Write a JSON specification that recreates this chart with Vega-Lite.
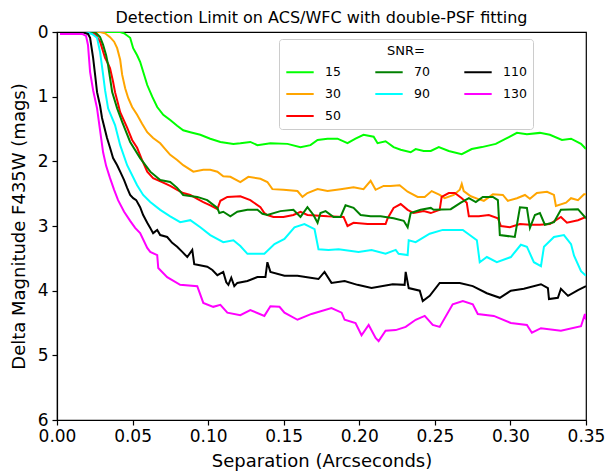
{
  "$schema": "https://vega.github.io/schema/vega-lite/v6.json",
  "autosize": {"type": "none"},
  "padding": {"left": 57, "top": 32, "right": 22, "bottom": 52},
  "width": 529,
  "height": 388,
  "background": "white",
  "title": {"text": "Detection Limit on ACS/WFC with double-PSF fitting", "fontSize": 16, "fontWeight": "normal", "font": "DejaVu Sans", "color": "black", "offset": -3},
  "data": {"values": [
    {"sep":0.0,"dmag":0,"snr":"15"},{"sep":0.0418,"dmag":0,"snr":"15"},{"sep":0.0444,"dmag":0.02,"snr":"15"},{"sep":0.0484,"dmag":0.09,"snr":"15"},{"sep":0.0504,"dmag":0.25,"snr":"15"},{"sep":0.053,"dmag":0.36,"snr":"15"},{"sep":0.055,"dmag":0.46,"snr":"15"},{"sep":0.0597,"dmag":0.82,"snr":"15"},{"sep":0.063,"dmag":1.0,"snr":"15"},{"sep":0.0663,"dmag":1.16,"snr":"15"},{"sep":0.0703,"dmag":1.28,"snr":"15"},{"sep":0.0749,"dmag":1.36,"snr":"15"},{"sep":0.0795,"dmag":1.45,"snr":"15"},{"sep":0.0835,"dmag":1.52,"snr":"15"},{"sep":0.0882,"dmag":1.55,"snr":"15"},{"sep":0.0948,"dmag":1.59,"snr":"15"},{"sep":0.1014,"dmag":1.65,"snr":"15"},{"sep":0.1081,"dmag":1.7,"snr":"15"},{"sep":0.1167,"dmag":1.73,"snr":"15"},{"sep":0.1213,"dmag":1.72,"snr":"15"},{"sep":0.1279,"dmag":1.7,"snr":"15"},{"sep":0.1326,"dmag":1.75,"snr":"15"},{"sep":0.1412,"dmag":1.72,"snr":"15"},{"sep":0.1525,"dmag":1.73,"snr":"15"},{"sep":0.1611,"dmag":1.78,"snr":"15"},{"sep":0.1677,"dmag":1.75,"snr":"15"},{"sep":0.1724,"dmag":1.67,"snr":"15"},{"sep":0.179,"dmag":1.65,"snr":"15"},{"sep":0.1856,"dmag":1.65,"snr":"15"},{"sep":0.1922,"dmag":1.72,"snr":"15"},{"sep":0.1975,"dmag":1.65,"snr":"15"},{"sep":0.2028,"dmag":1.59,"snr":"15"},{"sep":0.2095,"dmag":1.62,"snr":"15"},{"sep":0.2121,"dmag":1.72,"snr":"15"},{"sep":0.2174,"dmag":1.69,"snr":"15"},{"sep":0.2227,"dmag":1.78,"snr":"15"},{"sep":0.2274,"dmag":1.82,"snr":"15"},{"sep":0.234,"dmag":1.86,"snr":"15"},{"sep":0.2373,"dmag":1.81,"snr":"15"},{"sep":0.2426,"dmag":1.84,"snr":"15"},{"sep":0.2473,"dmag":1.84,"snr":"15"},{"sep":0.2526,"dmag":1.78,"snr":"15"},{"sep":0.2592,"dmag":1.84,"snr":"15"},{"sep":0.2678,"dmag":1.89,"snr":"15"},{"sep":0.2744,"dmag":1.81,"snr":"15"},{"sep":0.2811,"dmag":1.78,"snr":"15"},{"sep":0.2903,"dmag":1.73,"snr":"15"},{"sep":0.297,"dmag":1.65,"snr":"15"},{"sep":0.3043,"dmag":1.56,"snr":"15"},{"sep":0.3109,"dmag":1.58,"snr":"15"},{"sep":0.3195,"dmag":1.56,"snr":"15"},{"sep":0.3261,"dmag":1.59,"snr":"15"},{"sep":0.3341,"dmag":1.67,"snr":"15"},{"sep":0.3401,"dmag":1.65,"snr":"15"},{"sep":0.3467,"dmag":1.73,"snr":"15"},{"sep":0.35,"dmag":1.81,"snr":"15"},

    {"sep":0.0,"dmag":0,"snr":"30"},{"sep":0.0285,"dmag":0,"snr":"30"},{"sep":0.0318,"dmag":0.02,"snr":"30"},{"sep":0.0351,"dmag":0.08,"snr":"30"},{"sep":0.0378,"dmag":0.15,"snr":"30"},{"sep":0.0398,"dmag":0.25,"snr":"30"},{"sep":0.0418,"dmag":0.43,"snr":"30"},{"sep":0.0431,"dmag":0.66,"snr":"30"},{"sep":0.0451,"dmag":0.87,"snr":"30"},{"sep":0.0471,"dmag":1.02,"snr":"30"},{"sep":0.0497,"dmag":1.16,"snr":"30"},{"sep":0.053,"dmag":1.28,"snr":"30"},{"sep":0.0563,"dmag":1.42,"snr":"30"},{"sep":0.0597,"dmag":1.55,"snr":"30"},{"sep":0.0636,"dmag":1.64,"snr":"30"},{"sep":0.0683,"dmag":1.72,"snr":"30"},{"sep":0.0716,"dmag":1.81,"snr":"30"},{"sep":0.0749,"dmag":1.9,"snr":"30"},{"sep":0.0795,"dmag":1.98,"snr":"30"},{"sep":0.0835,"dmag":2.06,"snr":"30"},{"sep":0.0902,"dmag":2.16,"snr":"30"},{"sep":0.0968,"dmag":2.13,"snr":"30"},{"sep":0.1014,"dmag":2.13,"snr":"30"},{"sep":0.1061,"dmag":2.16,"snr":"30"},{"sep":0.11,"dmag":2.23,"snr":"30"},{"sep":0.1147,"dmag":2.24,"snr":"30"},{"sep":0.1213,"dmag":2.32,"snr":"30"},{"sep":0.1266,"dmag":2.24,"snr":"30"},{"sep":0.1346,"dmag":2.27,"snr":"30"},{"sep":0.1392,"dmag":2.32,"snr":"30"},{"sep":0.1425,"dmag":2.43,"snr":"30"},{"sep":0.1498,"dmag":2.44,"snr":"30"},{"sep":0.1591,"dmag":2.46,"snr":"30"},{"sep":0.1624,"dmag":2.55,"snr":"30"},{"sep":0.1657,"dmag":2.49,"snr":"30"},{"sep":0.1724,"dmag":2.43,"snr":"30"},{"sep":0.179,"dmag":2.46,"snr":"30"},{"sep":0.1876,"dmag":2.43,"snr":"30"},{"sep":0.1962,"dmag":2.4,"snr":"30"},{"sep":0.2028,"dmag":2.43,"snr":"30"},{"sep":0.2075,"dmag":2.3,"snr":"30"},{"sep":0.2108,"dmag":2.44,"snr":"30"},{"sep":0.2161,"dmag":2.38,"snr":"30"},{"sep":0.2207,"dmag":2.38,"snr":"30"},{"sep":0.2267,"dmag":2.37,"snr":"30"},{"sep":0.232,"dmag":2.47,"snr":"30"},{"sep":0.2386,"dmag":2.55,"snr":"30"},{"sep":0.2433,"dmag":2.55,"snr":"30"},{"sep":0.2479,"dmag":2.46,"snr":"30"},{"sep":0.2532,"dmag":2.52,"snr":"30"},{"sep":0.2565,"dmag":2.57,"snr":"30"},{"sep":0.2625,"dmag":2.52,"snr":"30"},{"sep":0.2665,"dmag":2.44,"snr":"30"},{"sep":0.2678,"dmag":2.35,"snr":"30"},{"sep":0.2691,"dmag":2.46,"snr":"30"},{"sep":0.2738,"dmag":2.54,"snr":"30"},{"sep":0.2784,"dmag":2.58,"snr":"30"},{"sep":0.2824,"dmag":2.61,"snr":"30"},{"sep":0.2884,"dmag":2.51,"snr":"30"},{"sep":0.295,"dmag":2.52,"snr":"30"},{"sep":0.2983,"dmag":2.61,"snr":"30"},{"sep":0.3043,"dmag":2.57,"snr":"30"},{"sep":0.3096,"dmag":2.52,"snr":"30"},{"sep":0.3129,"dmag":2.58,"snr":"30"},{"sep":0.3175,"dmag":2.49,"snr":"30"},{"sep":0.3242,"dmag":2.47,"snr":"30"},{"sep":0.3288,"dmag":2.52,"snr":"30"},{"sep":0.3301,"dmag":2.69,"snr":"30"},{"sep":0.3368,"dmag":2.64,"snr":"30"},{"sep":0.3401,"dmag":2.57,"snr":"30"},{"sep":0.3447,"dmag":2.6,"snr":"30"},{"sep":0.3487,"dmag":2.51,"snr":"30"},{"sep":0.35,"dmag":2.51,"snr":"30"},

    {"sep":0.0,"dmag":0,"snr":"50"},{"sep":0.0205,"dmag":0,"snr":"50"},{"sep":0.0252,"dmag":0.03,"snr":"50"},{"sep":0.0285,"dmag":0.15,"snr":"50"},{"sep":0.0318,"dmag":0.4,"snr":"50"},{"sep":0.0338,"dmag":0.49,"snr":"50"},{"sep":0.0351,"dmag":0.56,"snr":"50"},{"sep":0.0371,"dmag":0.77,"snr":"50"},{"sep":0.0384,"dmag":0.93,"snr":"50"},{"sep":0.0404,"dmag":1.11,"snr":"50"},{"sep":0.0418,"dmag":1.24,"snr":"50"},{"sep":0.0464,"dmag":1.48,"snr":"50"},{"sep":0.0497,"dmag":1.67,"snr":"50"},{"sep":0.053,"dmag":1.79,"snr":"50"},{"sep":0.0563,"dmag":1.98,"snr":"50"},{"sep":0.0597,"dmag":2.16,"snr":"50"},{"sep":0.0636,"dmag":2.26,"snr":"50"},{"sep":0.0703,"dmag":2.33,"snr":"50"},{"sep":0.0749,"dmag":2.38,"snr":"50"},{"sep":0.0795,"dmag":2.44,"snr":"50"},{"sep":0.0835,"dmag":2.49,"snr":"50"},{"sep":0.0882,"dmag":2.52,"snr":"50"},{"sep":0.0928,"dmag":2.58,"snr":"50"},{"sep":0.0968,"dmag":2.63,"snr":"50"},{"sep":0.1014,"dmag":2.68,"snr":"50"},{"sep":0.1061,"dmag":2.74,"snr":"50"},{"sep":0.1081,"dmag":2.61,"snr":"50"},{"sep":0.1127,"dmag":2.55,"snr":"50"},{"sep":0.1213,"dmag":2.54,"snr":"50"},{"sep":0.1279,"dmag":2.6,"snr":"50"},{"sep":0.1346,"dmag":2.71,"snr":"50"},{"sep":0.1372,"dmag":2.8,"snr":"50"},{"sep":0.1392,"dmag":2.83,"snr":"50"},{"sep":0.1432,"dmag":2.86,"snr":"50"},{"sep":0.1498,"dmag":2.86,"snr":"50"},{"sep":0.1564,"dmag":2.83,"snr":"50"},{"sep":0.1611,"dmag":2.78,"snr":"50"},{"sep":0.1657,"dmag":2.83,"snr":"50"},{"sep":0.179,"dmag":2.85,"snr":"50"},{"sep":0.1896,"dmag":2.86,"snr":"50"},{"sep":0.1922,"dmag":3.0,"snr":"50"},{"sep":0.1962,"dmag":2.95,"snr":"50"},{"sep":0.2055,"dmag":2.97,"snr":"50"},{"sep":0.2141,"dmag":2.97,"snr":"50"},{"sep":0.2174,"dmag":2.97,"snr":"50"},{"sep":0.2188,"dmag":2.88,"snr":"50"},{"sep":0.2227,"dmag":2.72,"snr":"50"},{"sep":0.2274,"dmag":2.66,"snr":"50"},{"sep":0.232,"dmag":2.75,"snr":"50"},{"sep":0.236,"dmag":2.8,"snr":"50"},{"sep":0.2426,"dmag":2.77,"snr":"50"},{"sep":0.2473,"dmag":2.8,"snr":"50"},{"sep":0.2532,"dmag":2.75,"snr":"50"},{"sep":0.2545,"dmag":2.55,"snr":"50"},{"sep":0.2592,"dmag":2.49,"snr":"50"},{"sep":0.2632,"dmag":2.49,"snr":"50"},{"sep":0.2678,"dmag":2.57,"snr":"50"},{"sep":0.2711,"dmag":2.64,"snr":"50"},{"sep":0.2725,"dmag":2.85,"snr":"50"},{"sep":0.2791,"dmag":2.85,"snr":"50"},{"sep":0.2857,"dmag":2.83,"snr":"50"},{"sep":0.2917,"dmag":2.88,"snr":"50"},{"sep":0.2937,"dmag":3.0,"snr":"50"},{"sep":0.2996,"dmag":3.02,"snr":"50"},{"sep":0.3063,"dmag":2.97,"snr":"50"},{"sep":0.3129,"dmag":2.98,"snr":"50"},{"sep":0.3195,"dmag":2.98,"snr":"50"},{"sep":0.3261,"dmag":2.97,"snr":"50"},{"sep":0.3334,"dmag":2.86,"snr":"50"},{"sep":0.3374,"dmag":2.95,"snr":"50"},{"sep":0.3447,"dmag":2.91,"snr":"50"},{"sep":0.35,"dmag":2.86,"snr":"50"},

    {"sep":0.0,"dmag":0,"snr":"70"},{"sep":0.0252,"dmag":0,"snr":"70"},{"sep":0.0285,"dmag":0.08,"snr":"70"},{"sep":0.0305,"dmag":0.2,"snr":"70"},{"sep":0.0325,"dmag":0.36,"snr":"70"},{"sep":0.0338,"dmag":0.51,"snr":"70"},{"sep":0.0365,"dmag":0.93,"snr":"70"},{"sep":0.0398,"dmag":1.18,"snr":"70"},{"sep":0.0431,"dmag":1.39,"snr":"70"},{"sep":0.0484,"dmag":1.7,"snr":"70"},{"sep":0.055,"dmag":1.95,"snr":"70"},{"sep":0.0617,"dmag":2.16,"snr":"70"},{"sep":0.0683,"dmag":2.29,"snr":"70"},{"sep":0.0749,"dmag":2.32,"snr":"70"},{"sep":0.0795,"dmag":2.41,"snr":"70"},{"sep":0.0835,"dmag":2.52,"snr":"70"},{"sep":0.0928,"dmag":2.55,"snr":"70"},{"sep":0.0994,"dmag":2.6,"snr":"70"},{"sep":0.1061,"dmag":2.72,"snr":"70"},{"sep":0.1074,"dmag":2.8,"snr":"70"},{"sep":0.11,"dmag":2.78,"snr":"70"},{"sep":0.1147,"dmag":2.85,"snr":"70"},{"sep":0.1193,"dmag":2.78,"snr":"70"},{"sep":0.126,"dmag":2.75,"snr":"70"},{"sep":0.1326,"dmag":2.75,"snr":"70"},{"sep":0.1359,"dmag":2.81,"snr":"70"},{"sep":0.1392,"dmag":2.83,"snr":"70"},{"sep":0.1478,"dmag":2.77,"snr":"70"},{"sep":0.1564,"dmag":2.75,"snr":"70"},{"sep":0.1611,"dmag":2.86,"snr":"70"},{"sep":0.1657,"dmag":2.71,"snr":"70"},{"sep":0.1697,"dmag":2.83,"snr":"70"},{"sep":0.1724,"dmag":2.95,"snr":"70"},{"sep":0.1743,"dmag":2.8,"snr":"70"},{"sep":0.1777,"dmag":2.77,"snr":"70"},{"sep":0.183,"dmag":2.86,"snr":"70"},{"sep":0.1876,"dmag":2.86,"snr":"70"},{"sep":0.1909,"dmag":2.68,"snr":"70"},{"sep":0.1962,"dmag":2.72,"snr":"70"},{"sep":0.2009,"dmag":2.83,"snr":"70"},{"sep":0.2075,"dmag":2.85,"snr":"70"},{"sep":0.2141,"dmag":2.85,"snr":"70"},{"sep":0.2227,"dmag":2.88,"snr":"70"},{"sep":0.2294,"dmag":2.92,"snr":"70"},{"sep":0.232,"dmag":3.02,"snr":"70"},{"sep":0.234,"dmag":2.8,"snr":"70"},{"sep":0.2406,"dmag":2.75,"snr":"70"},{"sep":0.2473,"dmag":2.72,"snr":"70"},{"sep":0.2492,"dmag":2.75,"snr":"70"},{"sep":0.2605,"dmag":2.74,"snr":"70"},{"sep":0.2672,"dmag":2.64,"snr":"70"},{"sep":0.2725,"dmag":2.57,"snr":"70"},{"sep":0.2771,"dmag":2.63,"snr":"70"},{"sep":0.2817,"dmag":2.55,"snr":"70"},{"sep":0.2884,"dmag":2.55,"snr":"70"},{"sep":0.2917,"dmag":2.6,"snr":"70"},{"sep":0.293,"dmag":3.14,"snr":"70"},{"sep":0.3029,"dmag":3.17,"snr":"70"},{"sep":0.3063,"dmag":2.71,"snr":"70"},{"sep":0.3109,"dmag":2.72,"snr":"70"},{"sep":0.3129,"dmag":3.03,"snr":"70"},{"sep":0.3162,"dmag":2.83,"snr":"70"},{"sep":0.3195,"dmag":2.8,"snr":"70"},{"sep":0.3228,"dmag":2.98,"snr":"70"},{"sep":0.3288,"dmag":2.94,"snr":"70"},{"sep":0.3334,"dmag":2.75,"snr":"70"},{"sep":0.3447,"dmag":2.74,"snr":"70"},{"sep":0.35,"dmag":2.88,"snr":"70"},

    {"sep":0.0,"dmag":0,"snr":"90"},{"sep":0.0186,"dmag":0,"snr":"90"},{"sep":0.0232,"dmag":0.03,"snr":"90"},{"sep":0.0265,"dmag":0.09,"snr":"90"},{"sep":0.0285,"dmag":0.31,"snr":"90"},{"sep":0.0305,"dmag":0.66,"snr":"90"},{"sep":0.0318,"dmag":0.9,"snr":"90"},{"sep":0.0338,"dmag":1.18,"snr":"90"},{"sep":0.0384,"dmag":1.44,"snr":"90"},{"sep":0.0418,"dmag":1.75,"snr":"90"},{"sep":0.0464,"dmag":2.06,"snr":"90"},{"sep":0.053,"dmag":2.37,"snr":"90"},{"sep":0.057,"dmag":2.52,"snr":"90"},{"sep":0.0617,"dmag":2.63,"snr":"90"},{"sep":0.0683,"dmag":2.75,"snr":"90"},{"sep":0.0749,"dmag":2.85,"snr":"90"},{"sep":0.0815,"dmag":2.94,"snr":"90"},{"sep":0.0882,"dmag":2.91,"snr":"90"},{"sep":0.0948,"dmag":3.02,"snr":"90"},{"sep":0.1014,"dmag":3.14,"snr":"90"},{"sep":0.11,"dmag":3.25,"snr":"90"},{"sep":0.1167,"dmag":3.22,"snr":"90"},{"sep":0.1213,"dmag":3.31,"snr":"90"},{"sep":0.126,"dmag":3.43,"snr":"90"},{"sep":0.1372,"dmag":3.43,"snr":"90"},{"sep":0.1439,"dmag":3.28,"snr":"90"},{"sep":0.1505,"dmag":3.2,"snr":"90"},{"sep":0.1571,"dmag":3.02,"snr":"90"},{"sep":0.1637,"dmag":2.97,"snr":"90"},{"sep":0.1704,"dmag":3.05,"snr":"90"},{"sep":0.173,"dmag":3.36,"snr":"90"},{"sep":0.1796,"dmag":3.37,"snr":"90"},{"sep":0.1863,"dmag":3.36,"snr":"90"},{"sep":0.1995,"dmag":3.4,"snr":"90"},{"sep":0.2081,"dmag":3.37,"snr":"90"},{"sep":0.2174,"dmag":3.43,"snr":"90"},{"sep":0.2241,"dmag":3.37,"snr":"90"},{"sep":0.226,"dmag":3.43,"snr":"90"},{"sep":0.232,"dmag":3.45,"snr":"90"},{"sep":0.2327,"dmag":3.22,"snr":"90"},{"sep":0.2373,"dmag":3.25,"snr":"90"},{"sep":0.2466,"dmag":3.12,"snr":"90"},{"sep":0.2552,"dmag":3.06,"snr":"90"},{"sep":0.2685,"dmag":3.06,"snr":"90"},{"sep":0.2778,"dmag":3.22,"snr":"90"},{"sep":0.2797,"dmag":3.56,"snr":"90"},{"sep":0.2844,"dmag":3.48,"snr":"90"},{"sep":0.291,"dmag":3.56,"snr":"90"},{"sep":0.3003,"dmag":3.48,"snr":"90"},{"sep":0.3069,"dmag":3.29,"snr":"90"},{"sep":0.3109,"dmag":3.32,"snr":"90"},{"sep":0.3155,"dmag":3.56,"snr":"90"},{"sep":0.3202,"dmag":3.62,"snr":"90"},{"sep":0.3222,"dmag":3.32,"snr":"90"},{"sep":0.3288,"dmag":3.17,"snr":"90"},{"sep":0.3354,"dmag":3.14,"snr":"90"},{"sep":0.3401,"dmag":3.28,"snr":"90"},{"sep":0.3421,"dmag":3.46,"snr":"90"},{"sep":0.3467,"dmag":3.7,"snr":"90"},{"sep":0.35,"dmag":3.77,"snr":"90"},

    {"sep":0.0,"dmag":0,"snr":"110"},{"sep":0.0166,"dmag":0,"snr":"110"},{"sep":0.0205,"dmag":0.03,"snr":"110"},{"sep":0.0219,"dmag":0.09,"snr":"110"},{"sep":0.0239,"dmag":0.4,"snr":"110"},{"sep":0.0252,"dmag":0.66,"snr":"110"},{"sep":0.0265,"dmag":0.93,"snr":"110"},{"sep":0.0285,"dmag":1.14,"snr":"110"},{"sep":0.0298,"dmag":1.33,"snr":"110"},{"sep":0.0331,"dmag":1.64,"snr":"110"},{"sep":0.0351,"dmag":1.79,"snr":"110"},{"sep":0.0371,"dmag":1.95,"snr":"110"},{"sep":0.0398,"dmag":2.06,"snr":"110"},{"sep":0.0418,"dmag":2.16,"snr":"110"},{"sep":0.0444,"dmag":2.29,"snr":"110"},{"sep":0.0464,"dmag":2.41,"snr":"110"},{"sep":0.0484,"dmag":2.52,"snr":"110"},{"sep":0.0504,"dmag":2.57,"snr":"110"},{"sep":0.0524,"dmag":2.6,"snr":"110"},{"sep":0.055,"dmag":2.71,"snr":"110"},{"sep":0.057,"dmag":2.83,"snr":"110"},{"sep":0.0597,"dmag":2.95,"snr":"110"},{"sep":0.0617,"dmag":3.03,"snr":"110"},{"sep":0.0636,"dmag":3.11,"snr":"110"},{"sep":0.0663,"dmag":3.06,"snr":"110"},{"sep":0.0683,"dmag":3.14,"snr":"110"},{"sep":0.0729,"dmag":3.17,"snr":"110"},{"sep":0.0762,"dmag":3.26,"snr":"110"},{"sep":0.0795,"dmag":3.32,"snr":"110"},{"sep":0.0829,"dmag":3.4,"snr":"110"},{"sep":0.0862,"dmag":3.48,"snr":"110"},{"sep":0.0895,"dmag":3.37,"snr":"110"},{"sep":0.0908,"dmag":3.59,"snr":"110"},{"sep":0.0928,"dmag":3.6,"snr":"110"},{"sep":0.0994,"dmag":3.63,"snr":"110"},{"sep":0.1028,"dmag":3.68,"snr":"110"},{"sep":0.1061,"dmag":3.76,"snr":"110"},{"sep":0.11,"dmag":3.71,"snr":"110"},{"sep":0.112,"dmag":3.87,"snr":"110"},{"sep":0.1134,"dmag":3.91,"snr":"110"},{"sep":0.1153,"dmag":3.8,"snr":"110"},{"sep":0.1173,"dmag":3.93,"snr":"110"},{"sep":0.1193,"dmag":3.88,"snr":"110"},{"sep":0.126,"dmag":3.85,"snr":"110"},{"sep":0.1326,"dmag":3.79,"snr":"110"},{"sep":0.1379,"dmag":3.79,"snr":"110"},{"sep":0.1392,"dmag":3.56,"snr":"110"},{"sep":0.1412,"dmag":3.71,"snr":"110"},{"sep":0.1505,"dmag":3.77,"snr":"110"},{"sep":0.1591,"dmag":3.77,"snr":"110"},{"sep":0.1677,"dmag":3.8,"snr":"110"},{"sep":0.173,"dmag":3.82,"snr":"110"},{"sep":0.177,"dmag":3.71,"snr":"110"},{"sep":0.1816,"dmag":3.88,"snr":"110"},{"sep":0.1903,"dmag":3.85,"snr":"110"},{"sep":0.1988,"dmag":3.91,"snr":"110"},{"sep":0.2081,"dmag":3.96,"snr":"110"},{"sep":0.2221,"dmag":3.9,"snr":"110"},{"sep":0.23,"dmag":3.91,"snr":"110"},{"sep":0.2307,"dmag":3.71,"snr":"110"},{"sep":0.2327,"dmag":3.96,"snr":"110"},{"sep":0.24,"dmag":4.0,"snr":"110"},{"sep":0.242,"dmag":4.16,"snr":"110"},{"sep":0.2466,"dmag":4.08,"snr":"110"},{"sep":0.2532,"dmag":3.88,"snr":"110"},{"sep":0.2665,"dmag":3.88,"snr":"110"},{"sep":0.2751,"dmag":3.93,"snr":"110"},{"sep":0.2844,"dmag":4.04,"snr":"110"},{"sep":0.293,"dmag":4.11,"snr":"110"},{"sep":0.3003,"dmag":4.0,"snr":"110"},{"sep":0.3089,"dmag":3.97,"snr":"110"},{"sep":0.3202,"dmag":3.9,"snr":"110"},{"sep":0.3248,"dmag":3.96,"snr":"110"},{"sep":0.3255,"dmag":4.13,"snr":"110"},{"sep":0.3314,"dmag":4.11,"snr":"110"},{"sep":0.3334,"dmag":3.97,"snr":"110"},{"sep":0.3381,"dmag":4.08,"snr":"110"},{"sep":0.3447,"dmag":3.99,"snr":"110"},{"sep":0.35,"dmag":3.93,"snr":"110"},

    {"sep":0.002,"dmag":0.03,"snr":"130"},{"sep":0.0166,"dmag":0.03,"snr":"130"},{"sep":0.0192,"dmag":0.06,"snr":"130"},{"sep":0.0205,"dmag":0.2,"snr":"130"},{"sep":0.0219,"dmag":0.62,"snr":"130"},{"sep":0.0239,"dmag":0.9,"snr":"130"},{"sep":0.0265,"dmag":1.18,"snr":"130"},{"sep":0.0285,"dmag":1.52,"snr":"130"},{"sep":0.0305,"dmag":1.86,"snr":"130"},{"sep":0.0325,"dmag":2.07,"snr":"130"},{"sep":0.0351,"dmag":2.26,"snr":"130"},{"sep":0.0378,"dmag":2.44,"snr":"130"},{"sep":0.0404,"dmag":2.6,"snr":"130"},{"sep":0.0444,"dmag":2.78,"snr":"130"},{"sep":0.0484,"dmag":2.92,"snr":"130"},{"sep":0.0517,"dmag":3.03,"snr":"130"},{"sep":0.055,"dmag":3.11,"snr":"130"},{"sep":0.0597,"dmag":3.34,"snr":"130"},{"sep":0.0617,"dmag":3.4,"snr":"130"},{"sep":0.0663,"dmag":3.45,"snr":"130"},{"sep":0.067,"dmag":3.65,"snr":"130"},{"sep":0.0729,"dmag":3.79,"snr":"130"},{"sep":0.0815,"dmag":3.91,"snr":"130"},{"sep":0.0928,"dmag":3.93,"snr":"130"},{"sep":0.0968,"dmag":4.19,"snr":"130"},{"sep":0.1034,"dmag":4.25,"snr":"130"},{"sep":0.1081,"dmag":4.22,"snr":"130"},{"sep":0.1127,"dmag":4.34,"snr":"130"},{"sep":0.1213,"dmag":4.38,"snr":"130"},{"sep":0.1279,"dmag":4.3,"snr":"130"},{"sep":0.1372,"dmag":4.39,"snr":"130"},{"sep":0.1412,"dmag":4.24,"snr":"130"},{"sep":0.1472,"dmag":4.25,"snr":"130"},{"sep":0.1505,"dmag":4.34,"snr":"130"},{"sep":0.1591,"dmag":4.45,"snr":"130"},{"sep":0.1684,"dmag":4.36,"snr":"130"},{"sep":0.1816,"dmag":4.27,"snr":"130"},{"sep":0.1883,"dmag":4.34,"snr":"130"},{"sep":0.1903,"dmag":4.45,"snr":"130"},{"sep":0.1975,"dmag":4.5,"snr":"130"},{"sep":0.2015,"dmag":4.69,"snr":"130"},{"sep":0.2062,"dmag":4.53,"snr":"130"},{"sep":0.2108,"dmag":4.73,"snr":"130"},{"sep":0.2128,"dmag":4.78,"snr":"130"},{"sep":0.2174,"dmag":4.62,"snr":"130"},{"sep":0.2241,"dmag":4.61,"snr":"130"},{"sep":0.2307,"dmag":4.56,"snr":"130"},{"sep":0.2373,"dmag":4.45,"snr":"130"},{"sep":0.2433,"dmag":4.39,"snr":"130"},{"sep":0.2486,"dmag":4.53,"snr":"130"},{"sep":0.2532,"dmag":4.56,"snr":"130"},{"sep":0.2618,"dmag":4.21,"snr":"130"},{"sep":0.2685,"dmag":4.16,"snr":"130"},{"sep":0.2751,"dmag":4.21,"snr":"130"},{"sep":0.2784,"dmag":4.36,"snr":"130"},{"sep":0.289,"dmag":4.39,"snr":"130"},{"sep":0.3003,"dmag":4.5,"snr":"130"},{"sep":0.3109,"dmag":4.53,"snr":"130"},{"sep":0.3142,"dmag":4.65,"snr":"130"},{"sep":0.3202,"dmag":4.58,"snr":"130"},{"sep":0.3334,"dmag":4.62,"snr":"130"},{"sep":0.3467,"dmag":4.55,"snr":"130"},{"sep":0.3493,"dmag":4.36,"snr":"130"},{"sep":0.35,"dmag":4.45,"snr":"130"}
  ]},
  "mark": {"type": "line", "strokeWidth": 2, "clip": true, "interpolate": "linear"},
  "encoding": {
    "x": {
      "field": "sep", "type": "quantitative",
      "scale": {"domain": [0, 0.35], "nice": false, "zero": false},
      "axis": {"title": "Separation (Arcseconds)", "values": [0, 0.05, 0.1, 0.15, 0.2, 0.25, 0.3, 0.35], "format": ".2f", "grid": false, "labelFontSize": 17, "titleFontSize": 18, "titleFontWeight": "normal", "labelPadding": 3, "titlePadding": 8, "tickSize": 5, "labelFlush": false}
    },
    "y": {
      "field": "dmag", "type": "quantitative",
      "scale": {"domain": [0, 6], "reverse": true, "nice": false},
      "axis": {"title": "Delta Magnitude F435W (mags)", "values": [0, 1, 2, 3, 4, 5, 6], "format": "d", "grid": false, "labelFontSize": 17, "titleFontSize": 18, "titleFontWeight": "normal", "labelPadding": 4, "titlePadding": 9, "tickSize": 5}
    },
    "color": {
      "field": "snr", "type": "nominal",
      "scale": {
        "domain": ["15", "70", "110", "30", "90", "130", "50"],
        "range": ["#00ff00", "#008000", "#000000", "#ffa500", "#00ffff", "#ff00ff", "#ff0000"]
      },
      "legend": {
        "title": "SNR=", "orient": "none", "legendX": 222, "legendY": 7,
        "columns": 3, "direction": "horizontal", "gridAlign": "all",
        "symbolType": "stroke", "symbolSize": 750, "symbolStrokeWidth": 2,
        "labelFontSize": 12.5, "titleFontSize": 13, "titleFontWeight": "normal",
        "titleAnchor": "middle", "titlePadding": -1,
        "labelOffset": 10, "columnPadding": 22, "rowPadding": -8,
        "padding": 6, "strokeColor": "#cccccc", "fillColor": "white", "cornerRadius": 3
      }
    }
  },
  "config": {
    "font": "DejaVu Sans",
    "view": {"stroke": "black", "strokeWidth": 1.2},
    "axis": {"domainColor": "black", "tickColor": "black", "labelColor": "black", "titleColor": "black", "domainWidth": 1.2, "tickWidth": 1.2},
    "legend": {"labelColor": "black", "titleColor": "black"}
  }
}
